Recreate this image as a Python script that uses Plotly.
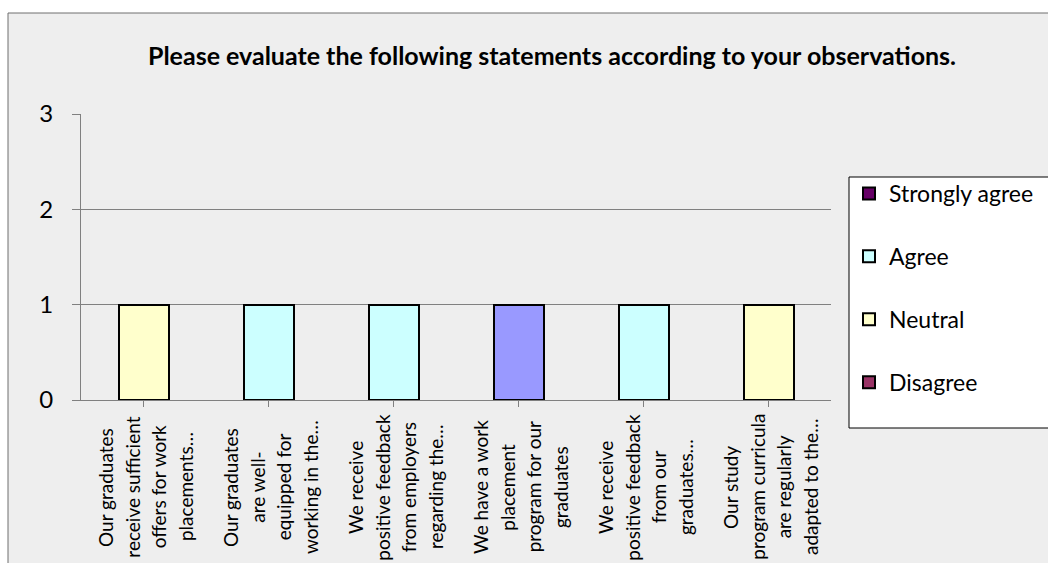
import plotly.graph_objects as go

categories = [
    "Our graduates<br>receive sufficient<br>offers for work<br>placements…",
    "Our graduates<br>are well-<br>equipped for<br>working in the…",
    "We receive<br>positive feedback<br>from employers<br>regarding the…",
    "We have a work<br>placement<br>program for our<br>graduates",
    "We receive<br>positive feedback<br>from our<br>graduates…",
    "Our study<br>program curricula<br>are regularly<br>adapted to the…",
]
series_names = ["Strongly disagree", "Disagree", "Neutral", "Agree", "Strongly agree"]
series_colors = ["#9999FF", "#993366", "#FFFFCC", "#CCFFFF", "#660066"]
series_in_legend = [False, True, True, True, True]
strongly_disagree = [0, 0, 0, 1, 0, 0]
disagree = [0, 0, 0, 0, 0, 0]
neutral = [1, 0, 0, 0, 0, 1]
agree = [0, 1, 1, 0, 1, 0]
strongly_agree = [0, 0, 0, 0, 0, 0]
series_values = [strongly_disagree, disagree, neutral, agree, strongly_agree]
y_ticks = [0, 1, 2, 3]
title_text = "Please evaluate the following statements according to your observations."

FONT = "Lato, 'Open Sans', sans-serif"
W, H = 1048, 563
L, R, T, B = 81, 217, 114, 163
PW, PH = W - L - R, H - T - B

def px_x(p):
    return (p - L) / PW

def px_y(p):
    return (H - B - p) / PH

cat_ids = list(range(len(categories)))

fig = go.Figure()
# added top series first so the legend lists "Strongly agree" first
for name, color, vals, show in reversed(list(zip(series_names, series_colors,
                                                 series_values, series_in_legend))):
    fig.add_trace(go.Bar(
        x=cat_ids,
        y=[v if v else None for v in vals],
        name=name,
        legendgroup=name,
        showlegend=show,
        marker=dict(color=color, line=dict(color="#000000", width=2)),
    ))

# outer chart frame and legend box
fig.add_shape(type="rect", xref="paper", yref="paper",
              x0=px_x(8), x1=px_x(W + 20), y0=px_y(H + 20), y1=px_y(13),
              line=dict(color="#6e6e6e", width=1), fillcolor="#EEEEEE", layer="below")
fig.add_shape(type="rect", xref="paper", yref="paper",
              x0=px_x(849), x1=px_x(W + 20), y0=px_y(428), y1=px_y(177),
              line=dict(color="#000000", width=1), fillcolor="#FFFFFF", layer="below")

# category labels (rotated, centred lines)
for i, lab in enumerate(categories):
    lines = lab.split("<br>")
    n = len(lines)
    for j, ln in enumerate(lines):
        fig.add_annotation(
            x=i, xref="x", y=px_y(487), yref="paper",
            text=ln, textangle=-90, showarrow=False,
            xanchor="center", yanchor="middle",
            xshift=(j - (n - 1) / 2) * 26.7 + 1.5,
            font=dict(family=FONT, size=19, color="#000000"),
        )

fig.update_layout(
    width=W, height=H,
    margin=dict(l=L, r=R, t=T, b=B, autoexpand=False),
    paper_bgcolor="#FFFFFF",
    plot_bgcolor="rgba(0,0,0,0)",
    barmode="stack",
    bargap=0.6,
    title=dict(text="<b>" + title_text + "</b>", x=552 / W, xanchor="center",
               y=1 - 56 / H, yanchor="middle", yref="container",
               font=dict(family=FONT, size=25, color="#000000")),
    showlegend=True,
    legend=dict(x=px_x(849), y=px_y(172), xanchor="left", yanchor="top",
                xref="paper", yref="paper",
                bgcolor="rgba(0,0,0,0)", borderwidth=0,
                traceorder="grouped", tracegroupgap=30,
                font=dict(family=FONT, size=23, color="#000000")),
    xaxis=dict(range=[-0.5, len(categories) - 0.5], tickmode="array",
               tickvals=cat_ids, showticklabels=False,
               ticks="outside", tickson="boundaries", ticklen=6,
               tickcolor="#808080", showline=True, linecolor="#808080",
               linewidth=1, showgrid=False, zeroline=False, fixedrange=True),
    yaxis=dict(range=[0, 3], tickmode="array", tickvals=y_ticks,
               ticks="outside", ticklen=8, tickcolor="#808080",
               showline=True, linecolor="#808080", linewidth=1,
               showgrid=True, gridcolor="#808080", gridwidth=1,
               zeroline=False, ticklabelstandoff=14,
               tickfont=dict(family=FONT, size=24, color="#000000")),
)

fig.write_html("out.html")
